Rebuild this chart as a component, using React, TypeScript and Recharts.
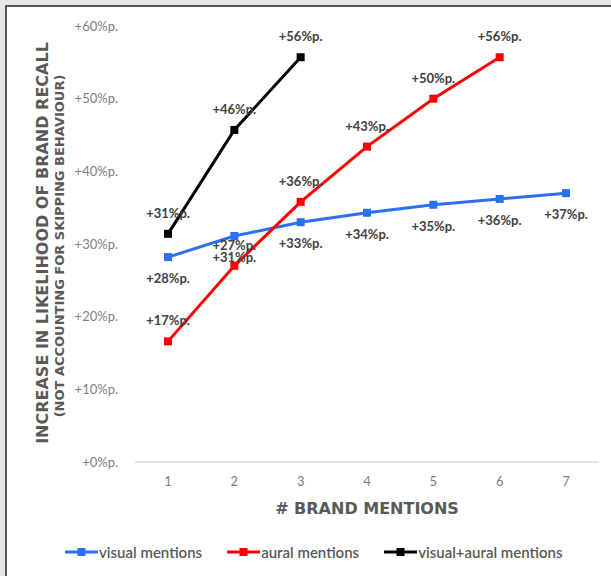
import { LineChart, Line, XAxis, YAxis, LabelList } from 'recharts';

// # brand mentions on the x axis
const mentions = ['1', '2', '3', '4', '5', '6', '7'];

// increase in likelihood of brand recall, %p.
const visual = [28.2, 31.1, 33.0, 34.3, 35.4, 36.2, 37.0];
const aural = [16.6, 27.0, 35.8, 43.4, 50.0, 55.7];
const combined = [31.4, 45.7, 55.7];

const yTicks = [0, 10, 20, 30, 40, 50, 60];

const series = [
  { key: 'visual', name: 'visual mentions', color: '#2b6ff2', below: true },
  { key: 'aural', name: 'aural mentions', color: '#ff0000', below: false },
  { key: 'combined', name: 'visual+aural mentions', color: '#000000', below: false },
];

const data = mentions.map((m, i) => ({
  m,
  visual: visual[i],
  aural: aural[i],
  combined: combined[i],
}));

const FONT = 'Lato, "Open Sans", sans-serif';
const TITLE_FONT = '"DejaVu Sans", Verdana, sans-serif';
const pct = (v: number) => `+${Math.round(v)}%p.`;

function SquareDot(props: any) {
  const { cx, cy, stroke } = props;
  if (cx == null || cy == null) return null;
  return <rect x={cx - 4} y={cy - 4} width={8} height={8} fill={stroke} />;
}

function makeLabel(below: boolean) {
  return (props: any) => {
    const { x, y, value } = props;
    if (value == null) return null;
    return (
      <text
        x={x}
        y={y + (below ? 21 : -21)}
        textAnchor="middle"
        dominantBaseline="central"
        fontFamily={FONT}
        fontSize={13}
        fontWeight={700}
        fill="#404040"
      >
        {pct(value)}
      </text>
    );
  };
}

export default function App() {
  return (
    <div
      style={{
        position: 'absolute',
        left: 0,
        top: 0,
        width: 611,
        height: 576,
        overflow: 'hidden',
        background: '#ffffff',
      }}
    >
      {/* grey page behind the framed chart */}
      <svg width={611} height={576} style={{ position: 'absolute', left: 0, top: 0 }}>
        <rect x={0} y={0} width={611} height={576} fill="#e6e6e6" />
        <rect x={6} y={6} width={640} height={600} fill="#ffffff" stroke="#555555" strokeWidth={2} />
      </svg>
      <div style={{ position: 'absolute', left: 0, top: 0 }}>
        <LineChart
          width={611}
          height={576}
          data={data}
          margin={{ top: 26, right: 12, bottom: 84, left: 75 }}
        >
          <XAxis
            dataKey="m"
            height={30}
            padding={{ left: 33, right: 33 }}
            tickLine={false}
            tickMargin={9}
            axisLine={{ stroke: '#d9d9d9', strokeWidth: 1.5 }}
            tick={{ fill: '#808080', fontSize: 13, fontFamily: FONT }}
          />
          <YAxis
            width={60}
            domain={[0, 60]}
            ticks={yTicks}
            axisLine={false}
            tickLine={false}
            tickMargin={11}
            tickFormatter={pct}
            tick={{ fill: '#808080', fontSize: 13, fontFamily: FONT }}
          />
          {series.map((s) => (
            <Line
              key={s.key}
              dataKey={s.key}
              name={s.name}
              stroke={s.color}
              strokeWidth={3}
              dot={<SquareDot />}
              activeDot={false}
              connectNulls={false}
              isAnimationActive={false}
            >
              <LabelList dataKey={s.key} content={makeLabel(s.below)} />
            </Line>
          ))}
        </LineChart>
      </div>
      <svg
        width={611}
        height={576}
        style={{ position: 'absolute', left: 0, top: 0, pointerEvents: 'none' }}
      >
        <text
          x={367}
          y={508}
          textAnchor="middle"
          dominantBaseline="central"
          fontFamily={TITLE_FONT}
          fontWeight={700}
          fontSize={16}
          fill="#595959"
        >
          # BRAND MENTIONS
        </text>
        <text
          transform="translate(42,243) rotate(-90)"
          textAnchor="middle"
          dominantBaseline="central"
          fontFamily={TITLE_FONT}
          fontWeight={700}
          fontSize={16}
          fill="#595959"
        >
          INCREASE IN LIKELIHOOD OF BRAND RECALL
        </text>
        <text
          transform="translate(59,246) rotate(-90)"
          textAnchor="middle"
          dominantBaseline="central"
          fontFamily={TITLE_FONT}
          fontWeight={700}
          fontSize={13}
          fill="#595959"
        >
          (NOT ACCOUNTING FOR SKIPPING BEHAVIOUR)
        </text>
      </svg>
      <div
        style={{
          position: 'absolute',
          left: 65,
          top: 543,
          display: 'flex',
          alignItems: 'center',
          fontFamily: FONT,
          fontSize: 15,
          fontWeight: 600,
          color: '#595959',
          whiteSpace: 'nowrap',
        }}
      >
        {series.map((s) => (
          <div key={s.key} style={{ display: 'flex', alignItems: 'center', marginRight: 25 }}>
            <svg width={33} height={18}>
              <line x1={0} y1={9} x2={33} y2={9} stroke={s.color} strokeWidth={3} />
              <rect x={12.5} y={5} width={8} height={8} fill={s.color} />
            </svg>
            <span style={{ marginLeft: 1 }}>{s.name}</span>
          </div>
        ))}
      </div>
    </div>
  );
}
